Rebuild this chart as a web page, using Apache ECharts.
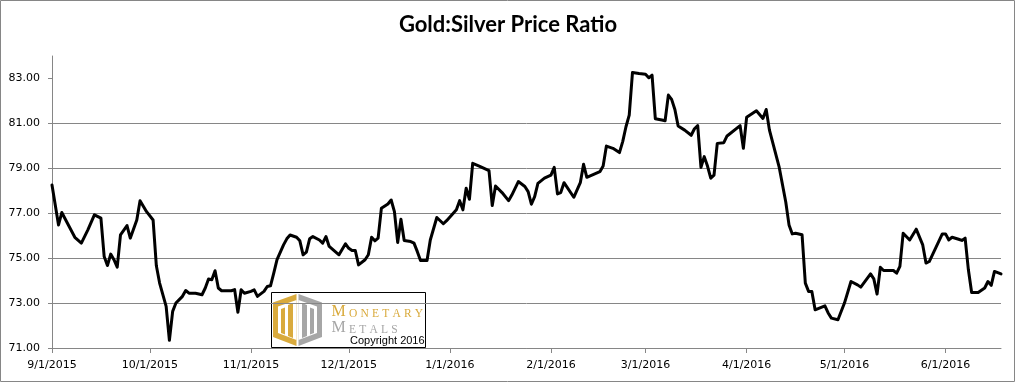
<!DOCTYPE html>
<html><head><meta charset="utf-8">
<script src="https://cdn.jsdelivr.net/npm/echarts@6/dist/echarts.min.js"></script>
<style>html,body{margin:0;padding:0;background:#fff}#c{width:1016px;height:383px}</style>
</head><body><div id="c"></div>
<script>
// ---- data ----
const dates = [
 '2015-09-01','2015-09-03','2015-09-04','2015-09-08','2015-09-10','2015-09-12','2015-09-14','2015-09-16','2015-09-17','2015-09-18','2015-09-19','2015-09-20','2015-09-21','2015-09-22','2015-09-24','2015-09-25','2015-09-27','2015-09-28','2015-09-30',
 '2015-10-02','2015-10-03','2015-10-04','2015-10-06','2015-10-07','2015-10-08','2015-10-09','2015-10-11','2015-10-12','2015-10-13','2015-10-15','2015-10-17','2015-10-18','2015-10-19','2015-10-20','2015-10-21','2015-10-22','2015-10-23','2015-10-26','2015-10-27','2015-10-28','2015-10-29','2015-10-30',
 '2015-11-01','2015-11-02','2015-11-03','2015-11-05','2015-11-06','2015-11-07','2015-11-08','2015-11-09','2015-11-11','2015-11-12','2015-11-13','2015-11-15','2015-11-16','2015-11-17','2015-11-18','2015-11-19','2015-11-20','2015-11-22','2015-11-23','2015-11-24','2015-11-25','2015-11-28','2015-11-30',
 '2015-12-01','2015-12-02','2015-12-03','2015-12-04','2015-12-06','2015-12-07','2015-12-08','2015-12-09','2015-12-10','2015-12-11','2015-12-13','2015-12-14','2015-12-15','2015-12-16','2015-12-17','2015-12-18','2015-12-20','2015-12-21','2015-12-22','2015-12-23','2015-12-25','2015-12-26','2015-12-28','2015-12-30','2015-12-31',
 '2016-01-03','2016-01-04','2016-01-05','2016-01-06','2016-01-07','2016-01-08','2016-01-10','2016-01-13','2016-01-14','2016-01-15','2016-01-17','2016-01-19','2016-01-20','2016-01-22','2016-01-24','2016-01-25','2016-01-26','2016-01-27','2016-01-28','2016-01-30',
 '2016-02-01','2016-02-02','2016-02-03','2016-02-04','2016-02-05','2016-02-08','2016-02-10','2016-02-11','2016-02-12','2016-02-16','2016-02-17','2016-02-18','2016-02-20','2016-02-22','2016-02-23','2016-02-24','2016-02-25','2016-02-26','2016-02-28',
 '2016-03-01','2016-03-02','2016-03-03','2016-03-04','2016-03-06','2016-03-07','2016-03-08','2016-03-09','2016-03-10','2016-03-11','2016-03-13','2016-03-15','2016-03-16','2016-03-17','2016-03-18','2016-03-19','2016-03-20','2016-03-21','2016-03-22','2016-03-23','2016-03-25','2016-03-26','2016-03-30','2016-03-31',
 '2016-04-01','2016-04-04','2016-04-06','2016-04-07','2016-04-08','2016-04-11','2016-04-13','2016-04-14','2016-04-15','2016-04-16','2016-04-18','2016-04-19','2016-04-20','2016-04-21','2016-04-22','2016-04-25','2016-04-26','2016-04-27','2016-04-29',
 '2016-05-01','2016-05-03','2016-05-05','2016-05-06','2016-05-09','2016-05-10','2016-05-11','2016-05-12','2016-05-13','2016-05-16','2016-05-17','2016-05-18','2016-05-19','2016-05-21','2016-05-23','2016-05-25','2016-05-26','2016-05-27','2016-05-31',
 '2016-06-01','2016-06-02','2016-06-03','2016-06-05','2016-06-06','2016-06-07','2016-06-08','2016-06-09','2016-06-11','2016-06-13','2016-06-14','2016-06-15','2016-06-16','2016-06-18'
];
const ratio = [
 78.26,76.48,77.03,75.93,75.67,76.26,76.93,76.78,75.07,74.67,75.18,74.93,74.60,76.04,76.45,75.89,76.70,77.56,77.07,
 76.70,74.66,73.89,72.85,71.34,72.63,73.00,73.30,73.56,73.44,73.44,73.37,73.67,74.07,74.04,74.44,73.67,73.55,73.55,73.60,72.59,73.59,73.44,
 73.52,73.59,73.30,73.52,73.74,73.77,74.33,74.93,75.59,75.86,76.03,75.93,75.77,75.15,75.27,75.86,75.96,75.81,75.67,75.96,75.52,75.15,75.64,
 75.44,75.34,75.34,74.70,74.93,75.15,75.93,75.77,75.89,77.22,77.41,77.59,77.07,75.70,76.73,75.79,75.74,75.67,75.30,74.90,74.90,75.81,76.81,76.53,76.67,
 77.15,77.56,77.15,78.11,77.62,79.22,79.10,78.90,77.34,78.21,77.92,77.56,77.81,78.41,78.19,77.96,77.40,77.74,78.33,78.56,
 78.70,79.04,77.86,77.92,78.36,77.71,78.36,79.18,78.60,78.85,79.10,79.99,79.89,79.70,80.19,80.85,81.37,83.27,83.22,
 83.19,83.03,83.15,81.21,81.15,81.12,82.26,82.07,81.62,80.88,80.70,80.47,80.76,80.90,79.04,79.52,79.10,78.56,78.70,80.11,80.14,80.44,80.90,79.89,
 81.27,81.56,81.22,81.62,80.70,79.04,77.50,76.48,76.08,76.11,76.04,73.89,73.52,73.52,72.70,72.88,72.56,72.33,72.26,
 73.00,73.96,73.81,73.71,74.30,74.08,73.40,74.59,74.45,74.45,74.33,74.63,76.11,75.81,76.29,75.59,74.78,74.85,76.08,
 76.08,75.81,75.93,75.84,75.79,75.89,74.48,73.47,73.47,73.67,73.96,73.79,74.41,74.30
];
const xTickDates = ['2015-09-01','2015-10-01','2015-11-01','2015-12-01','2016-01-01','2016-02-01','2016-03-01','2016-04-01','2016-05-01','2016-06-01'];
const yTickValues = [71,73,75,77,79,81,83];
const xRange = ['2015-09-01','2016-06-18'];
const yRange = [71,84];
const titleText = 'Gold:Silver Price Ratio';

// ---- chart ----
const GRID = '#868686';
const GOLD = '#D9AA3C';
const SILVER = '#A6A6A6';
const chart = echarts.init(document.getElementById('c'));
const parse = s => { const p = s.split('-').map(Number); return new Date(p[0], p[1]-1, p[2]).getTime(); };
const fmtDate = v => { const d = new Date(Math.round(v)); return (d.getMonth()+1) + '/' + d.getDate() + '/' + d.getFullYear(); };
const xTicks = xTickDates.map(parse);

const capStyle = (size, color) => ({fontFamily:'Liberation Serif', fontSize:size, fill:color, padding:[0,1.6], verticalAlign:'bottom'});

chart.setOption({
  animation:false,
  backgroundColor:'#fff',
  title:{text:titleText, left:'center', top:12, padding:0,
    textStyle:{fontFamily:'Lato', fontWeight:'bold', fontSize:22, color:'#000', lineHeight:26}},
  grid:{left:52, right:15, top:56, bottom:35, outerBoundsMode:'none'},
  xAxis:{type:'value', min:parse(xRange[0]), max:parse(xRange[1]), scale:true,
    axisLine:{show:true, lineStyle:{color:GRID, width:1}},
    axisTick:{show:true, customValues:xTicks, length:5, lineStyle:{color:GRID}},
    axisLabel:{customValues:xTicks, formatter:fmtDate, color:'#000', fontFamily:'DejaVu Sans', fontSize:11, margin:12},
    splitLine:{show:false}},
  yAxis:{type:'value', min:yRange[0], max:yRange[1], interval:2,
    axisLine:{show:true, lineStyle:{color:GRID, width:1}},
    axisTick:{show:true, customValues:yTickValues, length:4, lineStyle:{color:GRID}},
    axisLabel:{customValues:yTickValues, formatter:v => v.toFixed(2), color:'#000', fontFamily:'DejaVu Sans', fontSize:11, margin:12},
    splitLine:{show:true, showMaxLine:false, lineStyle:{color:GRID, width:1}}},
  series:[{type:'line', data:dates.map((d,i) => [parse(d), ratio[i]]), showSymbol:false, silent:true,
    lineStyle:{color:'#000', width:3, join:'round', cap:'round'}}],
  graphic:[
    {type:'rect', silent:true, z:0, shape:{x:0.5, y:0.5, width:1014, height:381}, style:{fill:null, stroke:GRID, lineWidth:1}},
    {type:'group', z:100, silent:true, children:[
      {type:'rect', shape:{x:271.5, y:292.5, width:154, height:55}, style:{fill:'#fff', stroke:'#000', lineWidth:1}},
      {type:'polygon', shape:{points:[[296.5,294],[273,302.5],[273,337],[296.5,346]]}, style:{fill:GOLD}},
      {type:'polygon', shape:{points:[[296.5,300],[278,306.5],[278,333],[296.5,340]]}, style:{fill:'#fff'}},
      {type:'polygon', shape:{points:[[281,309],[285,307.5],[285,334.5],[281,333]]}, style:{fill:GOLD}},
      {type:'polygon', shape:{points:[[288,305],[293,303],[293,338],[288,336]]}, style:{fill:GOLD}},
      {type:'polygon', shape:{points:[[298.5,294],[322,302.5],[322,337],[298.5,346]]}, style:{fill:SILVER}},
      {type:'polygon', shape:{points:[[298.5,300],[317,306.5],[317,333],[298.5,340]]}, style:{fill:'#fff'}},
      {type:'polygon', shape:{points:[[310,307.5],[314,309],[314,333],[310,334.5]]}, style:{fill:SILVER}},
      {type:'polygon', shape:{points:[[302,303],[307,305],[307,336],[302,338]]}, style:{fill:SILVER}},
      {type:'text', style:{x:330, y:320, text:'{a|M}{b|O}{b|N}{b|E}{b|T}{b|A}{b|R}{b|Y}', verticalAlign:'bottom',
        rich:{a:capStyle(16, GOLD), b:capStyle(11.5, GOLD)}}},
      {type:'text', style:{x:330, y:336, text:'{a|M}{b|E}{b|T}{b|A}{b|L}{b|S}', verticalAlign:'bottom',
        rich:{a:capStyle(16, SILVER), b:capStyle(11.5, SILVER)}}},
      {type:'text', style:{x:350, y:340.5, text:'Copyright 2016', verticalAlign:'middle', fontFamily:'Liberation Sans', fontSize:11, fill:'#000'}}
    ]}
  ]
});
</script>
</body></html>
